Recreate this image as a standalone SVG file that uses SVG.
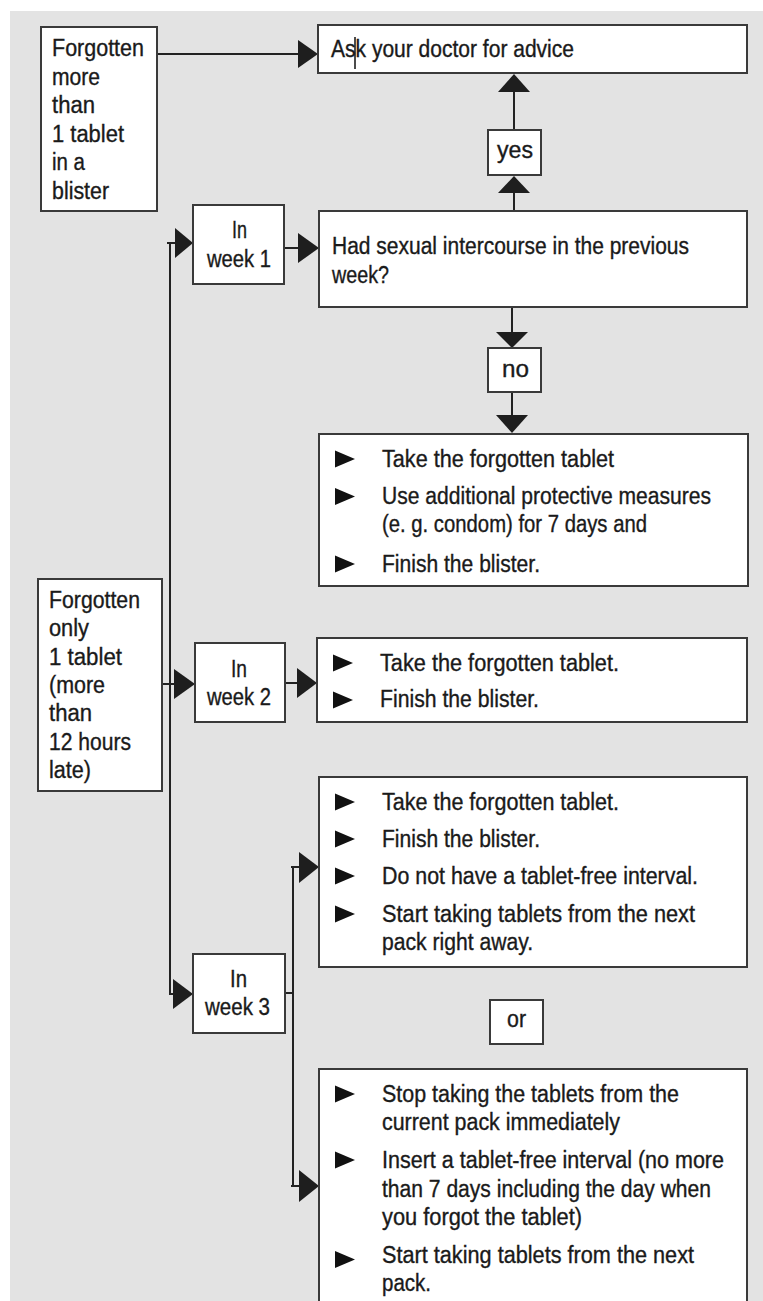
<svg xmlns="http://www.w3.org/2000/svg" width="763" height="1301" viewBox="0 0 763 1301">
<style>
.bg{fill:#e3e3e3}
.box{fill:#fff;stroke:#3a3a3a;stroke-width:2}
.t{font-family:"Liberation Sans","Open Sans",sans-serif;font-size:23px;fill:#1a1a1a;stroke:#1a1a1a;stroke-width:0.35}
.c{stroke:#222;stroke-width:2;fill:none}
.ah{fill:#1e1e1e}
.b{fill:#111}
</style>
<rect class="bg" x="10" y="11" width="753" height="1290"/>

<g id="connectors">
  <!-- more than 1 tablet -> ask -->
  <line class="c" x1="157" y1="54" x2="300" y2="54"/>
  <polygon class="ah" points="298,40 318,54 298,68"/>
  <!-- had -> yes -> ask -->
  <line class="c" x1="514" y1="211" x2="514" y2="190"/>
  <polygon class="ah" points="498,193 514,176 530,193"/>
  <line class="c" x1="514" y1="130" x2="514" y2="90"/>
  <polygon class="ah" points="498,92 514,74 530,92"/>
  <!-- had -> no -> box3 -->
  <line class="c" x1="512" y1="307" x2="512" y2="334"/>
  <polygon class="ah" points="496,332 512,348 528,332"/>
  <line class="c" x1="512" y1="392" x2="512" y2="417"/>
  <polygon class="ah" points="496,415 512,433 528,415"/>
  <!-- trunk -->
  <polyline class="c" points="167,243 170,243 170,994 175,994"/>
  <line class="c" x1="170" y1="243" x2="177" y2="243"/>
  <polygon class="ah" points="175,228 193,243 175,258"/>
  <line class="c" x1="162" y1="684" x2="175" y2="684"/>
  <polygon class="ah" points="174,669 195,684 174,699"/>
  <polygon class="ah" points="173,979 193,994 173,1009"/>
  <!-- week1 -> had -->
  <line class="c" x1="284" y1="248" x2="300" y2="248"/>
  <polygon class="ah" points="298,233 319,248 298,263"/>
  <!-- week2 -> box2 -->
  <line class="c" x1="285" y1="683" x2="299" y2="683"/>
  <polygon class="ah" points="297,668 317,683 297,698"/>
  <!-- week3 -> options -->
  <line class="c" x1="285" y1="993" x2="293" y2="993"/>
  <line class="c" x1="293" y1="867" x2="293" y2="1186"/>
  <line class="c" x1="291" y1="867" x2="301" y2="867"/>
  <polygon class="ah" points="299,852 319,867 299,883"/>
  <line class="c" x1="291" y1="1186" x2="301" y2="1186"/>
  <polygon class="ah" points="299,1170 319,1186 299,1202"/>
</g>

<g id="node-more-than-one">
  <rect class="box" x="41" y="27" width="116" height="184"/>
  <text class="t" x="52" y="56" textLength="92" lengthAdjust="spacingAndGlyphs">Forgotten</text>
  <text class="t" x="52" y="85" textLength="48" lengthAdjust="spacingAndGlyphs">more</text>
  <text class="t" x="52" y="113" textLength="43" lengthAdjust="spacingAndGlyphs">than</text>
  <text class="t" x="52" y="142" textLength="72" lengthAdjust="spacingAndGlyphs">1 tablet</text>
  <text class="t" x="52" y="170" textLength="33" lengthAdjust="spacingAndGlyphs">in a</text>
  <text class="t" x="52" y="199" textLength="57" lengthAdjust="spacingAndGlyphs">blister</text>
</g>

<g id="node-ask">
  <rect class="box" x="318" y="25" width="429" height="48"/>
  <text class="t" x="331" y="57" textLength="243" lengthAdjust="spacingAndGlyphs">Ask your doctor for advice</text>
  <line x1="355" y1="37" x2="355" y2="69" stroke="#111" stroke-width="1.5"/>
</g>

<g id="node-yes">
  <rect class="box" x="488" y="130" width="53" height="45"/>
  <text class="t" x="497" y="158" textLength="36" lengthAdjust="spacingAndGlyphs">yes</text>
</g>

<g id="node-week1">
  <rect class="box" x="193" y="205" width="91" height="79"/>
  <text class="t" x="232" y="238" textLength="15" lengthAdjust="spacingAndGlyphs">In</text>
  <text class="t" x="207" y="267" textLength="64" lengthAdjust="spacingAndGlyphs">week 1</text>
</g>

<g id="node-had">
  <rect class="box" x="319" y="211" width="428" height="96"/>
  <text class="t" x="332" y="254" textLength="357" lengthAdjust="spacingAndGlyphs">Had sexual intercourse in the previous</text>
  <text class="t" x="332" y="283" textLength="57" lengthAdjust="spacingAndGlyphs">week?</text>
</g>

<g id="node-no">
  <rect class="box" x="488" y="348" width="53" height="44"/>
  <text class="t" x="502" y="377" textLength="27" lengthAdjust="spacingAndGlyphs">no</text>
</g>

<g id="node-week1-actions">
  <rect class="box" x="319" y="434" width="429" height="152"/>
  <polygon class="b" points="335,450.5 355,459 335,467.5"/>
  <text class="t" x="382" y="467" textLength="232" lengthAdjust="spacingAndGlyphs">Take the forgotten tablet</text>
  <polygon class="b" points="335,488 355,496.5 335,505"/>
  <text class="t" x="382" y="504" textLength="329" lengthAdjust="spacingAndGlyphs">Use additional protective measures</text>
  <text class="t" x="382" y="532" textLength="265" lengthAdjust="spacingAndGlyphs">(e. g. condom) for 7 days and</text>
  <polygon class="b" points="335,555.5 355,564 335,572.5"/>
  <text class="t" x="382" y="572" textLength="158" lengthAdjust="spacingAndGlyphs">Finish the blister.</text>
</g>

<g id="node-only-one">
  <rect class="box" x="38" y="579" width="124" height="212"/>
  <text class="t" x="49" y="608" textLength="91" lengthAdjust="spacingAndGlyphs">Forgotten</text>
  <text class="t" x="49" y="636" textLength="40" lengthAdjust="spacingAndGlyphs">only</text>
  <text class="t" x="49" y="665" textLength="73" lengthAdjust="spacingAndGlyphs">1 tablet</text>
  <text class="t" x="49" y="693" textLength="56" lengthAdjust="spacingAndGlyphs">(more</text>
  <text class="t" x="49" y="721" textLength="43" lengthAdjust="spacingAndGlyphs">than</text>
  <text class="t" x="49" y="750" textLength="82" lengthAdjust="spacingAndGlyphs">12 hours</text>
  <text class="t" x="49" y="778" textLength="42" lengthAdjust="spacingAndGlyphs">late)</text>
</g>

<g id="node-week2">
  <rect class="box" x="195" y="643" width="90" height="79"/>
  <text class="t" x="231" y="677" textLength="16" lengthAdjust="spacingAndGlyphs">In</text>
  <text class="t" x="207" y="705" textLength="64" lengthAdjust="spacingAndGlyphs">week 2</text>
</g>

<g id="node-week2-actions">
  <rect class="box" x="317" y="638" width="430" height="84"/>
  <polygon class="b" points="333,654.5 353,663 333,671.5"/>
  <text class="t" x="380" y="671" textLength="239" lengthAdjust="spacingAndGlyphs">Take the forgotten tablet.</text>
  <polygon class="b" points="333,691.5 353,700 333,708.5"/>
  <text class="t" x="380" y="707" textLength="159" lengthAdjust="spacingAndGlyphs">Finish the blister.</text>
</g>

<g id="node-week3">
  <rect class="box" x="193" y="954" width="92" height="79"/>
  <text class="t" x="230" y="987" textLength="17" lengthAdjust="spacingAndGlyphs">In</text>
  <text class="t" x="205" y="1015" textLength="65" lengthAdjust="spacingAndGlyphs">week 3</text>
</g>

<g id="node-week3-option-a">
  <rect class="box" x="319" y="777" width="428" height="190"/>
  <polygon class="b" points="335,793.5 355,802 335,810.5"/>
  <text class="t" x="382" y="810" textLength="237" lengthAdjust="spacingAndGlyphs">Take the forgotten tablet.</text>
  <polygon class="b" points="335,830.5 355,839 335,847.5"/>
  <text class="t" x="382" y="847" textLength="158" lengthAdjust="spacingAndGlyphs">Finish the blister.</text>
  <polygon class="b" points="335,867.5 355,876 335,884.5"/>
  <text class="t" x="382" y="884" textLength="316" lengthAdjust="spacingAndGlyphs">Do not have a tablet-free interval.</text>
  <polygon class="b" points="335,905.5 355,914 335,922.5"/>
  <text class="t" x="382" y="922" textLength="313" lengthAdjust="spacingAndGlyphs">Start taking tablets from the next</text>
  <text class="t" x="382" y="950" textLength="151" lengthAdjust="spacingAndGlyphs">pack right away.</text>
</g>

<g id="node-or">
  <rect class="box" x="490" y="1000" width="53" height="44"/>
  <text class="t" x="507" y="1027" textLength="19" lengthAdjust="spacingAndGlyphs">or</text>
</g>

<g id="node-week3-option-b">
  <rect class="box" x="319" y="1069" width="428" height="260"/>
  <polygon class="b" points="335,1085.5 355,1094 335,1102.5"/>
  <text class="t" x="382" y="1102" textLength="297" lengthAdjust="spacingAndGlyphs">Stop taking the tablets from the</text>
  <text class="t" x="382" y="1130" textLength="238" lengthAdjust="spacingAndGlyphs">current pack immediately</text>
  <polygon class="b" points="335,1151.5 355,1160 335,1168.5"/>
  <text class="t" x="382" y="1168" textLength="342" lengthAdjust="spacingAndGlyphs">Insert a tablet-free interval (no more</text>
  <text class="t" x="382" y="1197" textLength="329" lengthAdjust="spacingAndGlyphs">than 7 days including the day when</text>
  <text class="t" x="382" y="1225" textLength="200" lengthAdjust="spacingAndGlyphs">you forgot the tablet)</text>
  <polygon class="b" points="335,1251 355,1259.5 335,1268"/>
  <text class="t" x="382" y="1263" textLength="312" lengthAdjust="spacingAndGlyphs">Start taking tablets from the next</text>
  <text class="t" x="382" y="1291" textLength="49" lengthAdjust="spacingAndGlyphs">pack.</text>
</g>
</svg>
